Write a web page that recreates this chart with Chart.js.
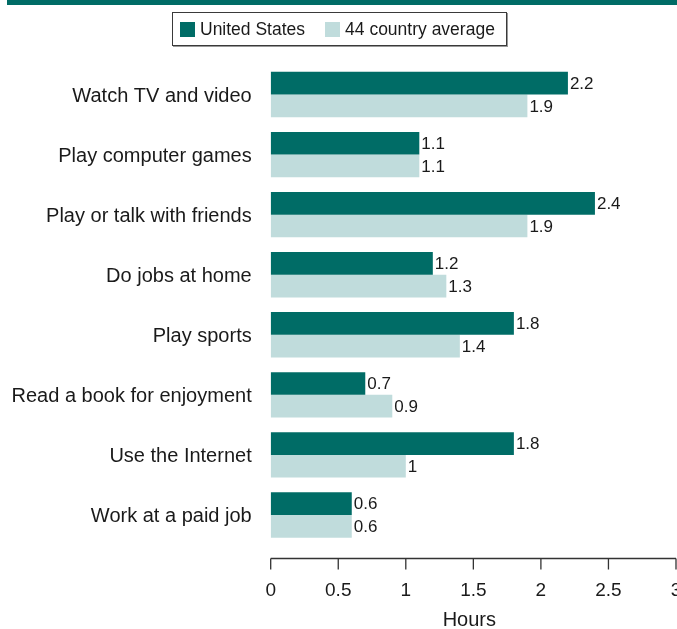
<!DOCTYPE html>
<html>
<head>
<meta charset="utf-8">
<script src="https://cdn.jsdelivr.net/npm/chart.js@4"></script>
<style>
  body { margin: 0; background: #fff; font-family: "Liberation Sans", Arial, sans-serif; }
  #wrap { position: relative; width: 677px; height: 629px; }
  #topBand { position: absolute; left: 7px; top: 0; width: 670px; height: 5px; background: #006c66; }
  #legend {
    position: absolute; left: 172px; top: 12px; width: 333px; height: 32px;
    border: 1px solid #3a3a3a; box-shadow: 1px 1px 0 #999;
    display: flex; align-items: center; font-size: 17.5px; color: #1a1a1a;
    white-space: nowrap;
  }
  .sw { display: inline-block; flex: none; width: 15px; height: 15px; margin: 0 5px 0 7px; }
  .item { display: flex; flex: none; align-items: center; margin-right: 13px; }
</style>
</head>
<body>
<div id="wrap">
  <div id="topBand"></div>
  <canvas id="chart"></canvas>
  <div id="legend">
    <span class="item"><span class="sw" style="background:#006c66"></span>United States</span>
    <span class="item"><span class="sw" style="background:#c0dcdc"></span>44 country average</span>
  </div>
</div>
<script>
const categories = [
    "Watch TV and video",
    "Play computer games",
    "Play or talk with friends",
    "Do jobs at home",
    "Play sports",
    "Read a book for enjoyment",
    "Use the Internet",
    "Work at a paid job"
];
const usHours = [2.2, 1.1, 2.4, 1.2, 1.8, 0.7, 1.8, 0.6];
const avgHours = [1.9, 1.1, 1.9, 1.3, 1.4, 0.9, 1.0, 0.6];
const xTicks = [0, 0.5, 1, 1.5, 2, 2.5, 3];
const xTitle = "Hours";

const FONT = "'Liberation Sans', Arial, sans-serif";
const TEXT = "#1a1a1a";

// value labels at the end of each bar
const valueLabels = {
    id: "valueLabels",
    afterDatasetsDraw(chart) {
        const ctx = chart.ctx;
        ctx.save();
        ctx.font = `17px ${FONT}`;
        ctx.fillStyle = TEXT;
        ctx.textAlign = "left";
        ctx.textBaseline = "middle";
        chart.data.datasets.forEach((ds, i) => {
            chart.getDatasetMeta(i).data.forEach((bar, j) => {
                ctx.fillText(String(ds.data[j]), bar.x + 2, bar.y + 1);
            });
        });
        ctx.restore();
    }
};

// detached x axis below the bars
const bottomAxis = {
    id: "bottomAxis",
    afterDraw(chart) {
        const x = chart.scales.x;
        const ctx = chart.ctx;
        const axisY = 558.5;
        ctx.save();
        ctx.strokeStyle = "#333";
        ctx.lineWidth = 1.3;
        ctx.beginPath();
        ctx.moveTo(x.getPixelForValue(xTicks[0]), axisY);
        ctx.lineTo(x.getPixelForValue(xTicks[xTicks.length - 1]), axisY);
        xTicks.forEach(t => {
            const px = x.getPixelForValue(t);
            ctx.moveTo(px, axisY);
            ctx.lineTo(px, axisY + 11);
        });
        ctx.stroke();
        ctx.font = `19px ${FONT}`;
        ctx.fillStyle = TEXT;
        ctx.textAlign = "center";
        ctx.textBaseline = "middle";
        xTicks.forEach(t => ctx.fillText(String(t), x.getPixelForValue(t), 591));
        ctx.font = `20px ${FONT}`;
        ctx.fillText(xTitle, (x.left + x.right) / 2 - 4, 620);
        ctx.restore();
    }
};

new Chart(document.getElementById("chart"), {
    type: "bar",
    data: {
        labels: categories,
        datasets: [
            { label: "United States", data: usHours, backgroundColor: "#006c66" },
            { label: "44 country average", data: avgHours, backgroundColor: "#c0dcdc" }
        ]
    },
    options: {
        indexAxis: "y",
        responsive: true,
        maintainAspectRatio: false,
        animation: false,
        layout: { padding: { top: 64.5, bottom: 84, left: 0, right: 1 } },
        datasets: { bar: { categoryPercentage: 0.755, barPercentage: 1.0 } },
        plugins: { legend: { display: false }, tooltip: { enabled: false } },
        scales: {
            x: { display: false, min: 0, max: 3 },
            y: {
                grid: { display: false, drawTicks: false },
                border: { display: false },
                ticks: { color: TEXT, font: { family: FONT, size: 20 }, padding: 19, labelOffset: 1.5 },
                afterFit(scale) { scale.width = 270.7; }
            }
        }
    },
    plugins: [valueLabels, bottomAxis]
});
</script>
</body>
</html>
